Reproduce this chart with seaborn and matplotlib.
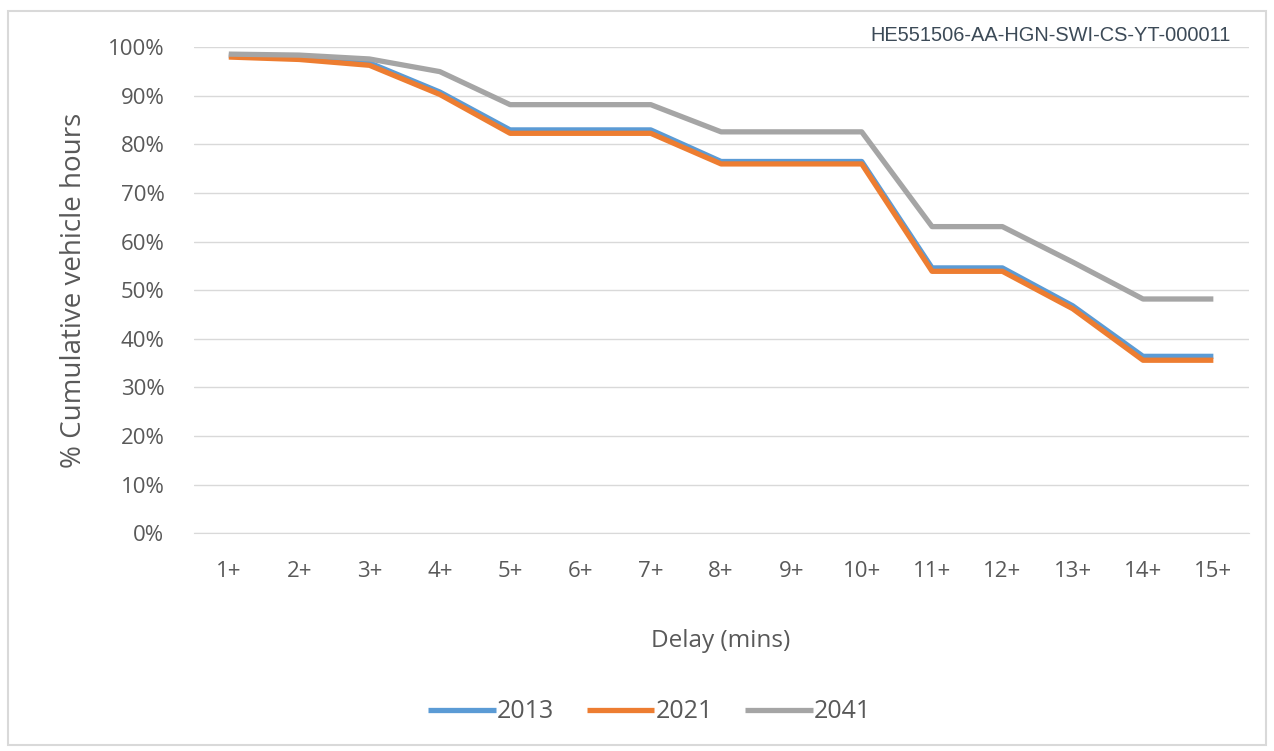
import matplotlib
matplotlib.use("Agg")
import matplotlib.pyplot as plt
import seaborn as sns
import pandas as pd
from matplotlib.patches import Rectangle
from matplotlib.ticker import PercentFormatter

delays = ['1+', '2+', '3+', '4+', '5+', '6+', '7+', '8+', '9+', '10+', '11+', '12+', '13+', '14+', '15+']
y2013 = [98.3, 97.8, 96.8, 90.8, 83.0, 83.0, 83.0, 76.5, 76.5, 76.5, 54.6, 54.6, 46.8, 36.4, 36.4]
y2021 = [98.0, 97.5, 96.3, 90.3, 82.3, 82.3, 82.3, 76.0, 76.0, 76.0, 53.9, 53.9, 46.2, 35.6, 35.6]
y2041 = [98.6, 98.4, 97.6, 95.0, 88.2, 88.2, 88.2, 82.6, 82.6, 82.6, 63.1, 63.1, 55.8, 48.2, 48.2]
years = ['2013', '2021', '2041']
colors = ['#5b9bd5', '#ed7d31', '#a5a5a5']

frames = []
for yr, vals in zip(years, [y2013, y2021, y2041]):
    frames.append(pd.DataFrame({'Delay': delays, 'Share': vals, 'Year': yr}))
df = pd.concat(frames, ignore_index=True)

sns.set_style("white")
plt.rcParams['font.family'] = ['Open Sans', 'DejaVu Sans']

fig = plt.figure(figsize=(12.74, 7.51), dpi=100)
ax = fig.add_axes([0.152, 0.290, 0.828, 0.647])

sns.lineplot(data=df, x='Delay', y='Share', hue='Year', palette=colors,
             linewidth=3.8, sort=False, ax=ax, solid_joinstyle='round',
             solid_capstyle='butt')

ax.set_xlim(-0.5, len(delays) - 0.5)
ax.set_ylim(0, 100)
ax.set_yticks(range(0, 101, 10))
ax.yaxis.set_major_formatter(PercentFormatter(decimals=0))
ax.grid(axis='y', color='#d9d9d9', linewidth=1)
ax.set_axisbelow(True)
for s in ['top', 'right', 'left']:
    ax.spines[s].set_visible(False)
ax.spines['bottom'].set_color('#d9d9d9')
ax.tick_params(axis='both', length=0, labelsize=16, labelcolor='#595959')
ax.tick_params(axis='y', pad=21)
ax.tick_params(axis='x', pad=20)

ax.set_xlabel('Delay (mins)', fontsize=17.5, color='#595959', labelpad=34)
ax.set_ylabel('% Cumulative vehicle hours', fontsize=20, color='#595959', labelpad=14)

handles, labels = ax.get_legend_handles_labels()
ax.legend(handles, labels, loc='center', bbox_to_anchor=(0.51, 0.052),
          bbox_transform=fig.transFigure, ncol=3, frameon=False,
          fontsize=18, labelcolor='#595959', handlelength=2.7,
          handletextpad=0.05, columnspacing=1.3)

fig.text(0.966, 0.953, 'HE551506-AA-HGN-SWI-CS-YT-000011', ha='right', va='center',
         fontsize=14.4, color='#3c4a57', family=['Liberation Sans', 'DejaVu Sans'])

fig.patches.append(Rectangle((0.006, 0.008), 0.988, 0.978, transform=fig.transFigure,
                             fill=False, edgecolor='#d9d9d9', linewidth=1.5))

fig.savefig('out.png', dpi=100)
